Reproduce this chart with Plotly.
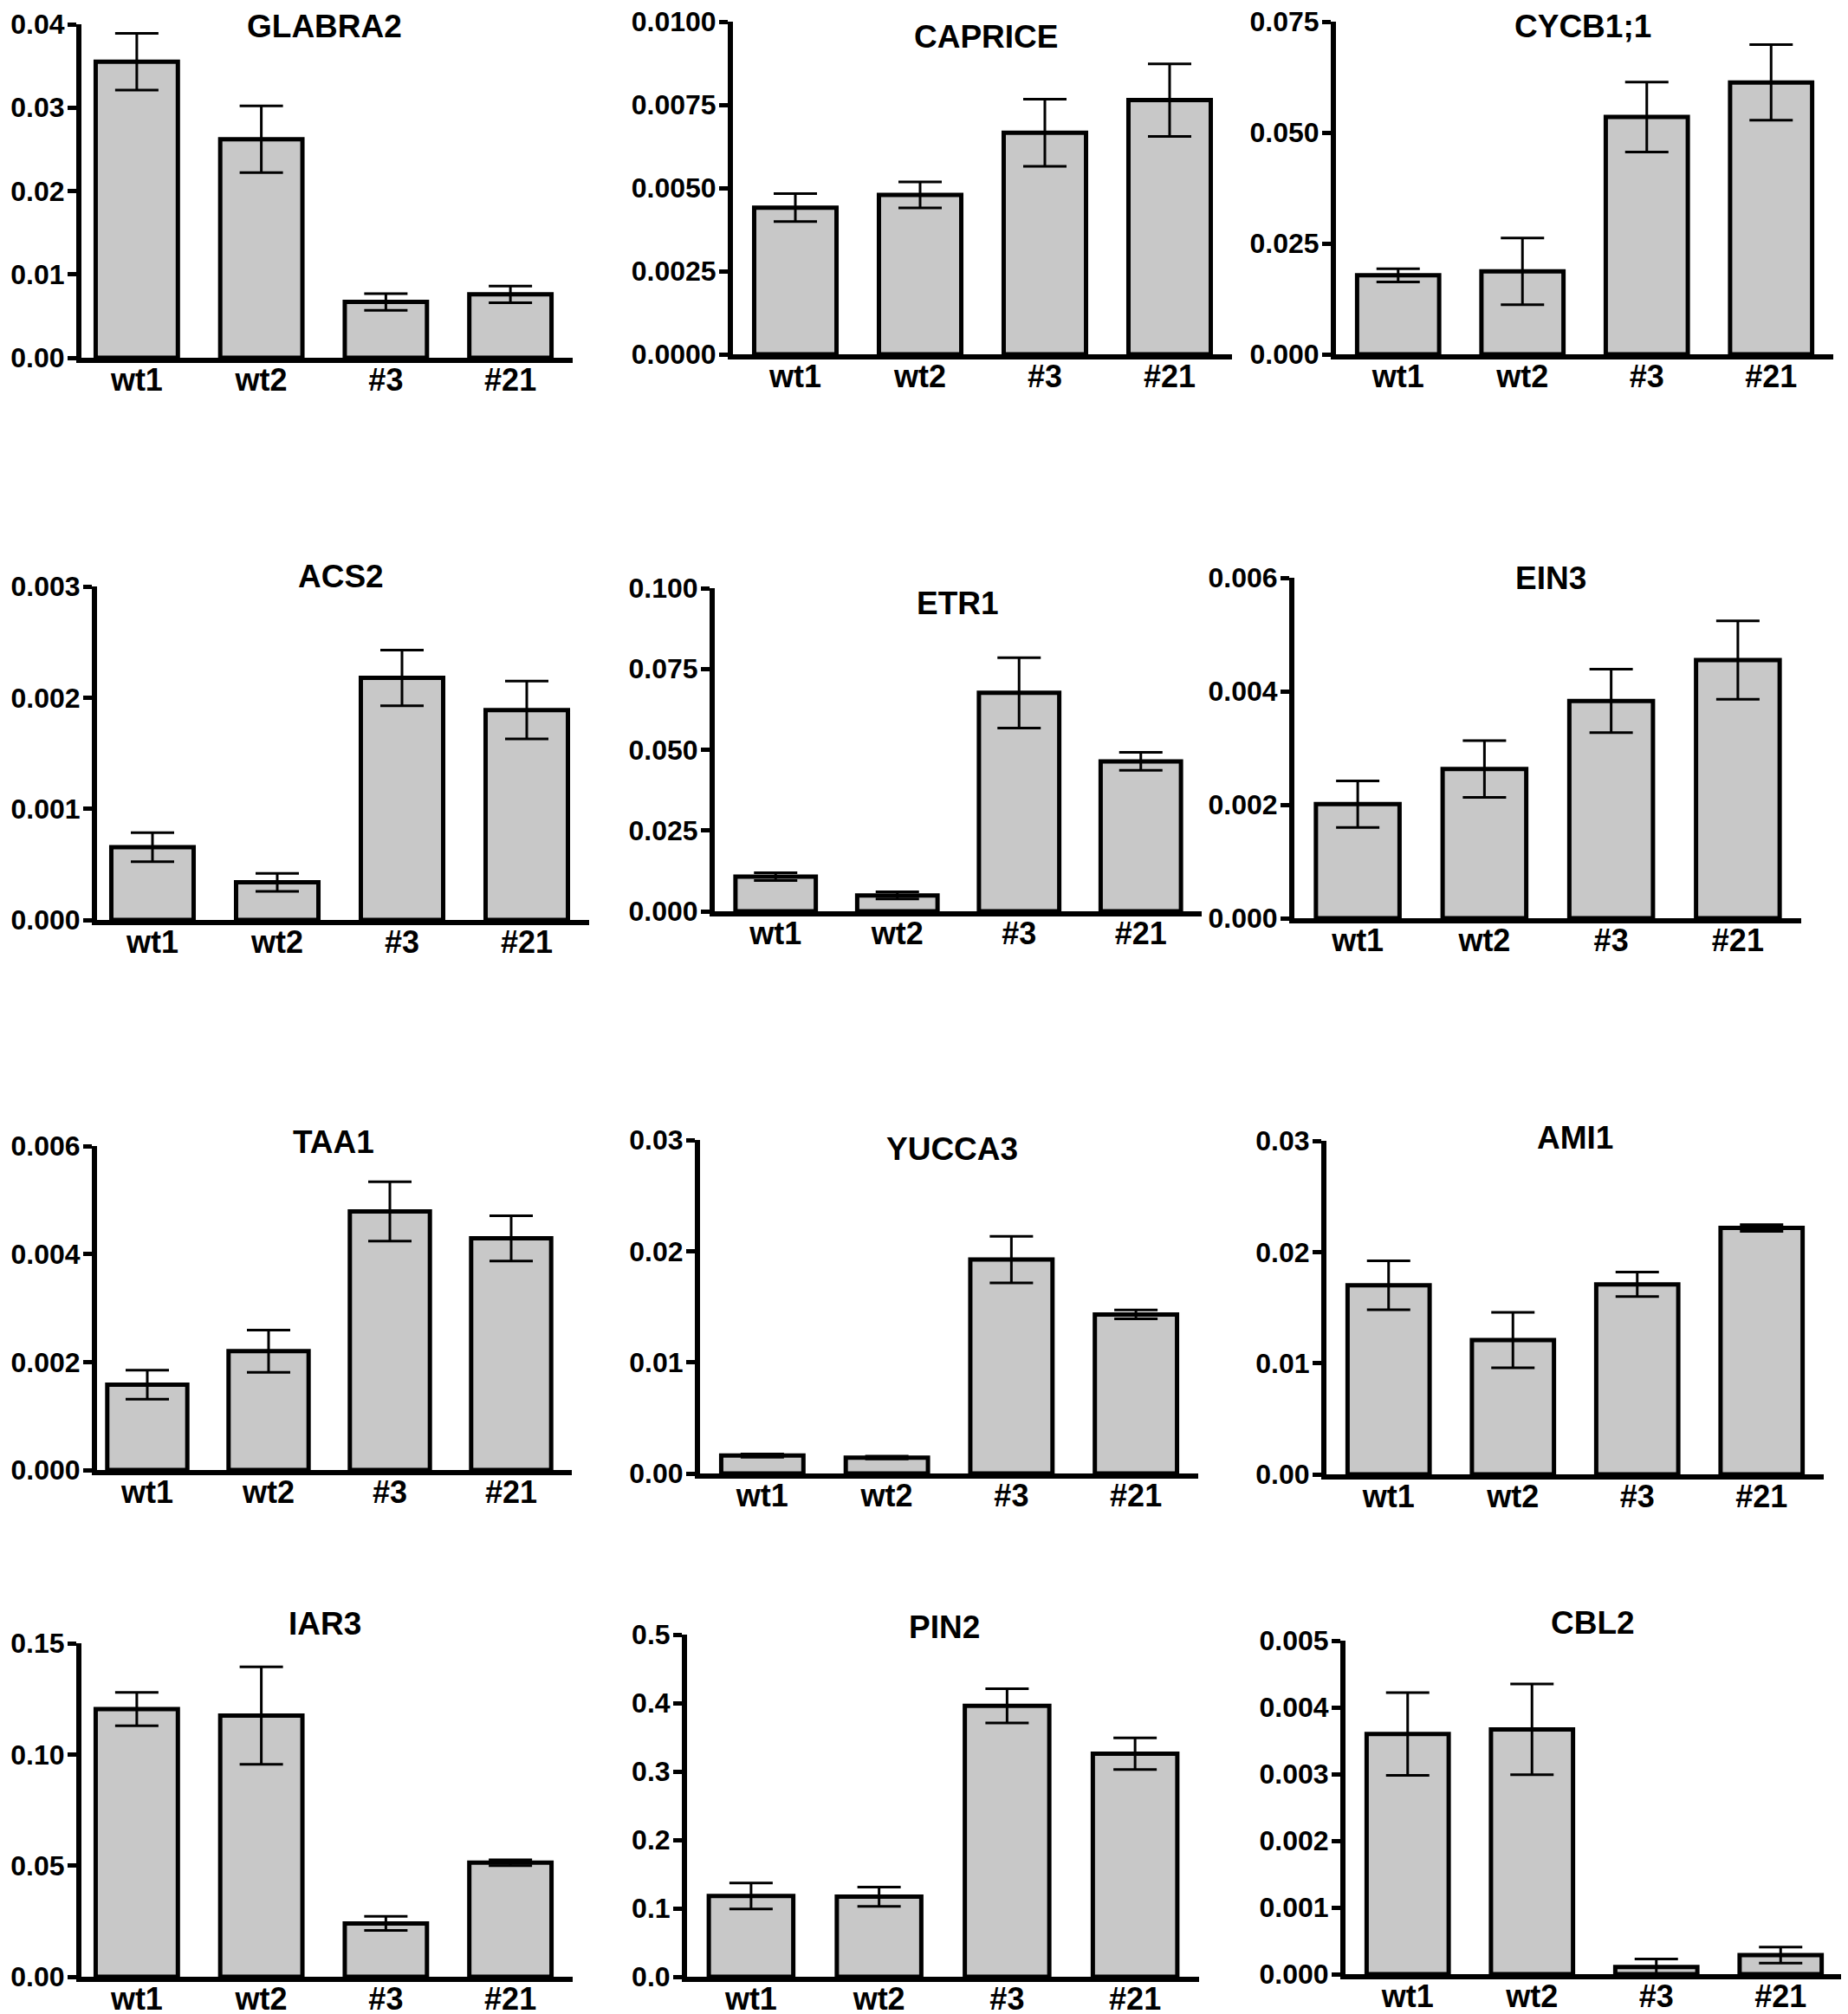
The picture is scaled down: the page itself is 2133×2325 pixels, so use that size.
import plotly.graph_objects as go

# ---------------- data ----------------
categories = ["wt1", "wt2", "#3", "#21"]

genes = ["GLABRA2", "CAPRICE", "CYCB1;1",
         "ACS2", "ETR1", "EIN3",
         "TAA1", "YUCCA3", "AMI1",
         "IAR3", "PIN2", "CBL2"]

glabra2_mean = [0.0355, 0.0262, 0.0067, 0.0076]
glabra2_sem = [0.0034, 0.0040, 0.0010, 0.0010]
caprice_mean = [0.00441, 0.00479, 0.00666, 0.00764]
caprice_sem = [0.00042, 0.00039, 0.00101, 0.00109]
cycb1_mean = [0.0178, 0.0187, 0.0535, 0.0613]
cycb1_sem = [0.0015, 0.0075, 0.0079, 0.0085]
acs2_mean = [0.000655, 0.000338, 0.002177, 0.001888]
acs2_sem = [0.00013, 0.00008, 0.00025, 0.00026]
etr1_mean = [0.0107, 0.0049, 0.0676, 0.0464]
etr1_sem = [0.0012, 0.0011, 0.0109, 0.0028]
ein3_mean = [0.00201, 0.00263, 0.00383, 0.00455]
ein3_sem = [0.00041, 0.00050, 0.00056, 0.00069]
taa1_mean = [0.00158, 0.00220, 0.00479, 0.00429]
taa1_sem = [0.00027, 0.00039, 0.00055, 0.00042]
yucca3_mean = [0.00161, 0.00143, 0.01924, 0.0143]
yucca3_sem = [0.00015, 0.00012, 0.0021, 0.0004]
ami1_mean = [0.01701, 0.01208, 0.01709, 0.02216]
ami1_sem = [0.0022, 0.0025, 0.0011, 0.0003]
iar3_mean = [0.1204, 0.1175, 0.0240, 0.0513]
iar3_sem = [0.0075, 0.0219, 0.0032, 0.0013]
pin2_mean = [0.118, 0.117, 0.396, 0.326]
pin2_sem = [0.019, 0.014, 0.025, 0.023]
cbl2_mean = [0.00360, 0.00367, 0.000108, 0.000286]
cbl2_sem = [0.00062, 0.00068, 0.00012, 0.00012]

means = [glabra2_mean, caprice_mean, cycb1_mean, acs2_mean, etr1_mean, ein3_mean,
         taa1_mean, yucca3_mean, ami1_mean, iar3_mean, pin2_mean, cbl2_mean]
sems = [glabra2_sem, caprice_sem, cycb1_sem, acs2_sem, etr1_sem, ein3_sem,
        taa1_sem, yucca3_sem, ami1_sem, iar3_sem, pin2_sem, cbl2_sem]

y_max = [0.04, 0.01, 0.075, 0.003, 0.1, 0.006, 0.006, 0.03, 0.03, 0.15, 0.5, 0.005]
y_dtick = [0.01, 0.0025, 0.025, 0.001, 0.025, 0.002, 0.002, 0.01, 0.01, 0.05, 0.1, 0.001]
y_format = [".2f", ".4f", ".3f", ".3f", ".3f", ".3f", ".3f", ".2f", ".2f", ".2f", ".1f", ".3f"]

# ---------------- layout (pixel boxes of each panel) ----------------
W, H = 2133, 2325
# (bars_left, right, top, bottom) in px: category slots span bars_left..right
boxes = [
    (78, 653, 20, 405), (838, 1414, 17, 401), (1534, 2108, 17, 401),
    (96, 672, 669, 1054), (817, 1379, 671, 1044), (1486, 2071, 659, 1052),
    (92, 652, 1315, 1689), (800, 1375, 1308, 1693), (1523, 2097, 1309, 1694),
    (78, 653, 1889, 2274), (785, 1376, 1879, 2274), (1545, 2119, 1886, 2271),
]
# y-axis line position (px); differs from bars_left where tick labels need room
axis_left = [86, 838, 1534, 104, 817, 1486, 104, 800, 1523, 86, 785, 1545]
title_pos = [
    (367, 22), (1130, 34), (1819, 22),
    (385, 657), (1097, 688), (1782, 659),
    (377, 1310), (1091, 1318), (1810, 1305),
    (367, 1866), (1082, 1870), (1830, 1865),
]

FONT = "Liberation Sans, Arial, Helvetica, sans-serif"
fig = go.Figure()
annotations = []
layout_axes = {}
ncat = len(categories)
for i, g in enumerate(genes):
    n = "" if i == 0 else str(i + 1)
    fig.add_trace(go.Bar(
        x=list(range(ncat)), y=means[i],
        width=0.66,
        marker=dict(color="#c8c8c8", line=dict(color="black", width=5)),
        error_y=dict(type="data", array=sems[i], visible=True,
                     color="black", thickness=3, width=25),
        xaxis="x" + n, yaxis="y" + n, showlegend=False, hoverinfo="skip",
    ))
    bl, r, t, b = boxes[i]
    l = axis_left[i]
    slot = (r - bl) / ncat
    lo = (ncat - 0.5) - (r - l) / slot
    layout_axes["xaxis" + n] = dict(
        domain=[l / W, r / W], anchor="y" + n, automargin=False,
        range=[lo, ncat - 0.5], tickvals=list(range(ncat)), ticktext=categories,
        showline=True, linecolor="black", linewidth=6, ticks="",
        showgrid=False, zeroline=False, fixedrange=True,
        tickfont=dict(family=FONT, size=36, color="black", weight="bold"),
        ticklabelstandoff=-11, ticklabeloverflow="allow",
    )
    layout_axes["yaxis" + n] = dict(
        domain=[1 - b / H, 1 - t / H], anchor="x" + n, automargin=False,
        range=[0, y_max[i]], dtick=y_dtick[i], tick0=0, tickformat=y_format[i],
        showline=True, linecolor="black", linewidth=6,
        ticks="outside", ticklen=10, tickwidth=5, tickcolor="black",
        showgrid=False, zeroline=False, fixedrange=True,
        tickfont=dict(family=FONT, size=32, color="black", weight="bold"),
        ticklabelstandoff=-3, ticklabeloverflow="allow",
    )
    tx, ty = title_pos[i]
    annotations.append(dict(
        text=g, x=tx / W, y=1 - ty / H, xref="paper", yref="paper",
        xanchor="center", yanchor="middle", showarrow=False,
        font=dict(family=FONT, size=37, color="black", weight="bold"),
    ))

fig.update_layout(
    template="none",
    width=W, height=H, margin=dict(l=0, r=0, t=0, b=0, pad=0),
    paper_bgcolor="white", plot_bgcolor="white",
    annotations=annotations, bargap=0.3,
    **layout_axes,
)
fig.write_html("out.html")
